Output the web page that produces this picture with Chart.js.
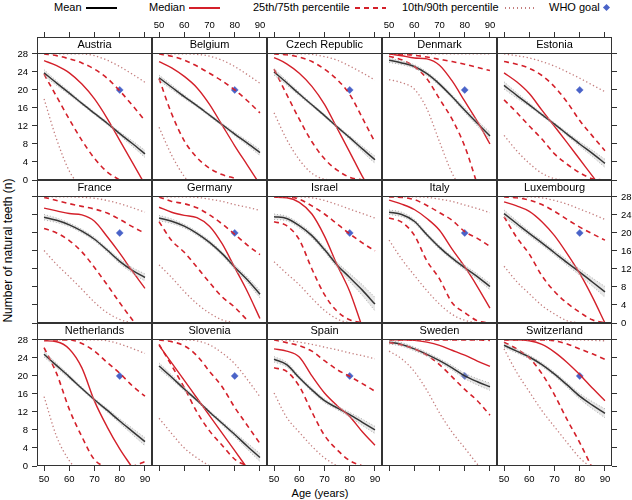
<!DOCTYPE html>
<html><head><meta charset="utf-8">
<script src="https://cdn.jsdelivr.net/npm/chart.js@4.4.0/dist/chart.umd.min.js"></script>
<style>
html,body{margin:0;padding:0;background:#fff;width:632px;height:500px;overflow:hidden;position:relative;font-family:"Liberation Sans",Arial,sans-serif;}
canvas{position:absolute;}
.t{position:absolute;font-size:11px;line-height:13px;color:#000;white-space:nowrap;}
.ln{position:absolute;height:2px;}
</style></head><body>
<div class="t" style="left:54px;top:1px">Mean</div><div class="ln" style="left:86px;top:7px;width:31px;background:#000;height:1.5px"></div>
<div class="t" style="left:149px;top:1px">Median</div><div class="ln" style="left:189px;top:7px;width:31px;background:#d4202a;height:1.5px"></div>
<div class="t" style="left:253px;top:1px">25th/75th percentile</div><div class="ln" style="left:355px;top:7px;width:31px;background:repeating-linear-gradient(to right,#d4202a 0 5px,transparent 5px 9px)"></div>
<div class="t" style="left:402px;top:1px">10th/90th percentile</div><div class="ln" style="left:505px;top:7px;width:31px;height:1.5px;background:repeating-linear-gradient(to right,#c47e7e 0 1.5px,transparent 1.5px 4px)"></div>
<div class="t" style="left:549px;top:1px">WHO goal</div><div style="position:absolute;left:604px;top:5px;width:5px;height:5px;background:#4a63c8;transform:rotate(45deg)"></div>
<div class="t" style="left:0;top:487px;width:640px;text-align:center">Age (years)</div>
<div class="t" style="left:-92px;top:244px;width:200px;text-align:center;font-size:12px;transform:rotate(-90deg)">Number of natural teeth (n)</div>
<script>
const ages = [50, 55, 60, 65, 70, 75, 80, 85, 90];
const xTicks = [50, 60, 70, 80, 90];
const yTicks = [0, 4, 8, 12, 16, 20, 24, 28];
const whoGoalAge = 80, whoGoalTeeth = 20;

const austriaMean   = [23.8,21.5,19.3,17.0,14.8,12.6,10.3,8.1,5.8];
const austriaCi     = [0.7,0.5,0.4,0.3,0.3,0.3,0.4,0.6,0.8];
const austriaMedian = [26.5,25.4,23.8,21.3,18.0,13.7,8.8,3.9,-1.0];
const austriaP75    = [28,27.6,26.9,26.0,24.6,22.6,19.8,16.6,13.2];
const austriaP90    = [28,28,28,28,27.6,26.6,25.2,23.5,21.7];
const austriaP25    = [23.5,18.5,13.5,8.8,4.8,1.8,0,null,null];
const austriaP10    = [18,9,2,-2,null,null,null,null,null];

const belgiumMean   = [22.7,20.6,18.5,16.5,14.4,12.3,10.2,8.2,6.1];
const belgiumCi     = [0.6,0.5,0.4,0.3,0.3,0.3,0.4,0.5,0.7];
const belgiumMedian = [26.3,24.9,23.0,20.5,16.8,12.2,7.6,3.3,-1.0];
const belgiumP75    = [28,27.5,26.6,25.3,23.7,22.0,20.0,17.6,14.9];
const belgiumP90    = [28,28,28,27.9,27.5,26.6,25.2,23.4,21.5];
const belgiumP25    = [22.5,14.7,8.7,5.0,2.6,1.2,0.4,null,null];
const belgiumP10    = [11.7,5.5,0.8,-2,null,null,null,null,null];

const czechMean   = [24.0,21.6,19.1,16.7,14.3,11.8,9.4,6.9,4.5];
const czechCi     = [0.7,0.5,0.4,0.3,0.3,0.3,0.4,0.6,0.8];
const czechMedian = [27.2,25.8,23.7,20.8,16.8,11.5,6.2,0.8,-4];
const czechP75    = [28,27.8,27.3,26.3,24.6,22.3,19.0,13.8,8.4];
const czechP90    = [28,28,28,27.9,27.4,26.6,25.3,23.8,22.2];
const czechP25    = [24.6,19.0,13.5,8.5,4.7,2.2,0.6,0,null];
const czechP10    = [14.9,9,4.5,1.5,0.2,0,null,null,null];

const denmarkMean   = [26.6,26.0,25.2,23.6,21.3,18.5,15.5,12.6,9.8];
const denmarkCi     = [0.5,0.4,0.4,0.4,0.4,0.4,0.5,0.6,0.8];
const denmarkMedian = [28,27.6,27.1,26.9,25.5,22.0,17.5,13.0,8.0];
const denmarkP75    = [28,27.9,27.7,27.3,26.8,26.3,25.7,25.0,24.3];
const denmarkP90    = [28,28,28,28,28,28,28,28,28];
const denmarkP25    = [27.5,26.7,25.2,22.5,18.0,13.5,7.5,-1.0,null];
const denmarkP10    = [22.3,21.6,20.2,15.8,8.5,1.5,-3,null,null];

const estoniaMean   = [21.0,18.8,16.7,14.5,12.4,10.2,8.0,5.9,3.7];
const estoniaCi     = [0.8,0.6,0.4,0.3,0.3,0.4,0.5,0.7,0.9];
const estoniaMedian = [23.8,21.8,19.2,15.5,11.9,8.3,4.6,0.9,-2.8];
const estoniaP75    = [26.3,25.7,24.8,23.2,20.7,17.3,13.2,9.8,6.5];
const estoniaP90    = [28,27.6,27.1,26.3,25.3,24.0,22.6,21.1,19.6];
const estoniaP25    = [17.8,15.0,12.0,9.1,5.8,3.5,1.6,0.3,0];
const estoniaP10    = [9.9,6.5,3.7,1.5,0.3,0,null,null,null];

const franceMean   = [23.5,22.8,21.8,20.4,18.6,16.2,13.7,11.7,10.1];
const franceCi     = [0.6,0.5,0.4,0.4,0.4,0.4,0.5,0.6,0.8];
const franceMedian = [25.5,24.9,24.3,24.0,22.6,19.2,15.5,11.5,7.7];
const franceP75    = [27.9,27.2,26.5,25.9,25.3,24.4,23.0,21.4,19.9];
const franceP90    = [28,28,28,27.9,27.7,27.2,26.5,25.6,24.6];
const franceP25    = [21.0,20.0,18.3,15.8,12.3,8.5,4.5,0.7,-3];
const franceP10    = [16.1,13.0,10.3,7.5,4.6,2.3,0.8,0,null];

const germanyMean   = [23.3,22.6,21.5,19.9,17.9,15.4,12.4,9.6,6.4];
const germanyCi     = [0.6,0.5,0.4,0.4,0.4,0.4,0.5,0.6,0.8];
const germanyMedian = [25.7,24.6,23.9,23.4,21.5,17.6,12.3,7.0,1.0];
const germanyP75    = [28,27.0,26.5,25.6,24.0,22.0,19.7,17.3,15.2];
const germanyP90    = [28,28,28,27.9,27.5,27.0,26.3,25.7,25.0];
const germanyP25    = [22.5,18.3,15.7,12.4,9.0,5.8,3.5,0.6,null];
const germanyP10    = [12.9,10.1,7.0,4.3,2.2,0.7,0,null,null];

const israelMean   = [23.6,23.2,21.6,19.4,16.3,12.9,10.1,7.3,4.2];
const israelCi     = [0.6,0.5,0.5,0.5,0.5,0.6,0.9,1.2,1.5];
const israelMedian = [27.9,27.8,26.8,24.2,19.3,12.9,7.0,-0.9,-8];
const israelP75    = [28,28,27.5,26.0,24.2,22.0,19.8,17.8,16.0];
const israelP90    = [28,28,28,27.8,27.2,26.3,25.3,24.3,23.3];
const israelP25    = [22.5,21.6,18.5,12.0,6.3,2.6,0.7,0,null];
const israelP10    = [13.6,11.0,8.5,5.5,2.8,0.9,0,null,null];

const italyMean   = [24.6,24.1,22.6,19.6,16.8,14.4,12.3,10.3,8.1];
const italyCi     = [0.5,0.5,0.4,0.4,0.4,0.4,0.5,0.6,0.7];
const italyMedian = [27.3,26.4,25.2,23.2,20.6,16.4,12.5,8.1,3.3];
const italyP75    = [28,27.9,27.4,26.1,24.5,22.8,20.3,18.8,17.0];
const italyP90    = [28,28,28,27.9,27.5,27.0,26.2,25.4,24.5];
const italyP25    = [23.3,22.4,19.5,13.8,9.8,4.5,2.3,0.5,0];
const italyP10    = [18.4,14.2,10.6,7.2,4.2,1.9,0.6,0,null];

const luxembourgMean   = [24.3,22.1,19.9,17.8,15.6,13.4,11.3,9.1,6.9];
const luxembourgCi     = [0.8,0.6,0.5,0.5,0.5,0.6,0.7,0.9,1.2];
const luxembourgMedian = [26.9,26.0,24.8,22.5,19.4,15.4,11.0,5.8,0];
const luxembourgP75    = [28,27.8,27.3,26.3,24.8,23.0,21.3,19.8,18.4];
const luxembourgP90    = [28,28,28,27.8,27.2,26.4,25.3,24.2,23.0];
const luxembourgP25    = [23.6,19.0,15.3,10.5,7.0,4.4,2.4,0.7,0];
const luxembourgP10    = [12.6,9.2,6.5,3.9,2.0,0.5,0,null,null];

const netherlandsMean   = [24.8,22.3,19.8,17.2,14.7,12.4,10.0,7.7,5.4];
const netherlandsCi     = [0.6,0.5,0.4,0.3,0.3,0.4,0.5,0.7,0.9];
const netherlandsMedian = [27.8,27.6,26.0,21.8,14.4,8.7,3.8,-0.4,-5];
const netherlandsP75    = [28,28,28,27.2,25.5,23.0,20.6,17.8,15.5];
const netherlandsP90    = [28,28,28,28,28,27.8,27.1,26.1,25.0];
const netherlandsP25    = [26.3,20.5,12.6,6.5,1.4,0,0,0,1.0];
const netherlandsP10    = [15.4,6.5,1.2,-2,null,null,null,null,null];

const sloveniaMean   = [22.2,19.7,17.1,14.6,12.0,9.5,7.0,4.4,1.9];
const sloveniaCi     = [0.7,0.5,0.4,0.3,0.3,0.4,0.5,0.7,0.9];
const sloveniaMedian = [26.8,22.9,19.0,15.1,11.2,7.3,3.4,-0.5,-4.4];
const sloveniaP75    = [28,27.6,26.7,24.5,21.0,17.6,13.0,9.0,5.0];
const sloveniaP90    = [28,28,28,27.8,26.9,25.1,22.7,19.2,15.4];
const sloveniaP25    = [27.0,22.3,17.4,12.0,7.8,4.6,1.5,0,null];
const sloveniaP10    = [10.6,7.2,4.0,1.8,0,null,null,null,null];

const spainMean   = [23.7,22.5,19.6,16.9,14.5,12.9,11.4,9.7,8.0];
const spainCi     = [0.6,0.5,0.4,0.4,0.4,0.4,0.5,0.7,0.8];
const spainMedian = [26.0,25.5,24.2,20.0,16.2,13.4,11.0,7.6,4.6];
const spainP75    = [28,27.4,26.7,25.5,23.4,21.4,19.9,18.3,16.6];
const spainP90    = [28,27.9,27.5,27.0,26.4,25.8,25.1,24.5,23.8];
const spainP25    = [21.8,21.0,17.7,12.0,6.8,3.6,1.2,0,null];
const spainP10    = [16.2,10.8,7.5,4.4,1.8,0,null,null,null];

const swedenMean   = [27.5,27.0,26.0,24.8,23.4,21.8,20.0,18.7,17.6];
const swedenCi     = [0.4,0.4,0.4,0.4,0.4,0.5,0.6,0.7,0.8];
const swedenMedian = [28,28,27.9,27.5,26.8,25.7,24.6,23.3,22.1];
const swedenP75    = [28,28,28,28,28,28,28,28,27.9];
const swedenP90    = [28,28,28,28,28,28,28,28,28];
const swedenP25    = [27.4,26.9,26.0,24.6,22.5,19.8,17.0,14.5,11.3];
const swedenP10    = [25.5,23.8,21.0,16.8,11.8,7.5,4.0,0.4,-3];

const switzerlandMean   = [26.8,25.5,24.2,22.5,20.4,18.0,15.5,13.5,11.7];
const switzerlandCi     = [0.5,0.4,0.4,0.4,0.4,0.5,0.6,0.8,1.0];
const switzerlandMedian = [28,28,27.8,27.0,25.3,23.0,20.3,17.3,14.5];
const switzerlandP75    = [28,28,28,28,27.8,27.1,26.0,24.9,23.7];
const switzerlandP90    = [28,28,28,28,28,28,28,27.9,27.8];
const switzerlandP25    = [27.5,26.0,24.0,20.5,15.8,10.3,5.2,-0.5,null];
const switzerlandP10    = [26.0,20.8,16.5,12.3,8.7,5.2,1.8,-0.5,null];

const panels = [
  ['Austria', austriaMean, austriaCi, austriaMedian, austriaP25, austriaP75, austriaP10, austriaP90],
  ['Belgium', belgiumMean, belgiumCi, belgiumMedian, belgiumP25, belgiumP75, belgiumP10, belgiumP90],
  ['Czech Republic', czechMean, czechCi, czechMedian, czechP25, czechP75, czechP10, czechP90],
  ['Denmark', denmarkMean, denmarkCi, denmarkMedian, denmarkP25, denmarkP75, denmarkP10, denmarkP90],
  ['Estonia', estoniaMean, estoniaCi, estoniaMedian, estoniaP25, estoniaP75, estoniaP10, estoniaP90],
  ['France', franceMean, franceCi, franceMedian, franceP25, franceP75, franceP10, franceP90],
  ['Germany', germanyMean, germanyCi, germanyMedian, germanyP25, germanyP75, germanyP10, germanyP90],
  ['Israel', israelMean, israelCi, israelMedian, israelP25, israelP75, israelP10, israelP90],
  ['Italy', italyMean, italyCi, italyMedian, italyP25, italyP75, italyP10, italyP90],
  ['Luxembourg', luxembourgMean, luxembourgCi, luxembourgMedian, luxembourgP25, luxembourgP75, luxembourgP10, luxembourgP90],
  ['Netherlands', netherlandsMean, netherlandsCi, netherlandsMedian, netherlandsP25, netherlandsP75, netherlandsP10, netherlandsP90],
  ['Slovenia', sloveniaMean, sloveniaCi, sloveniaMedian, sloveniaP25, sloveniaP75, sloveniaP10, sloveniaP90],
  ['Spain', spainMean, spainCi, spainMedian, spainP25, spainP75, spainP10, spainP90],
  ['Sweden', swedenMean, swedenCi, swedenMedian, swedenP25, swedenP75, swedenP10, swedenP90],
  ['Switzerland', switzerlandMean, switzerlandCi, switzerlandMedian, switzerlandP25, switzerlandP75, switzerlandP10, switzerlandP90]
];

Chart.defaults.font.family = '"Liberation Sans", Arial, sans-serif';
Chart.defaults.color = '#000';

const PW = 115, PH = 143, STRIP = 16, ML = 32, MR = 32, MT = 26, MB = 22;
const X0 = 37, Y0 = 37;
const RED = '#d4202a', ROSE = '#c47e7e', BLUE = '#4a63c8';

function pts(arr) {
  const out = [];
  arr.forEach((v, i) => { if (v !== null) out.push({x: ages[i], y: v}); });
  return out;
}
function line(arr, color, width, dash, extra) {
  return Object.assign({data: pts(arr), borderColor: color, borderWidth: width, borderDash: dash,
    pointRadius: 0, pointHoverRadius: 0, fill: false, cubicInterpolationMode: 'monotone', clip: 0}, extra || {});
}

const frame = {
  id: 'frame',
  afterDraw(chart) {
    const a = chart.chartArea, c = chart.ctx;
    const l = Math.round(a.left) + 0.5, r = Math.round(a.right) - 0.5;
    const t = Math.round(a.top - STRIP) + 0.5, m = Math.round(a.top) + 0.5, b = Math.round(a.bottom) - 0.5;
    c.save();
    c.strokeStyle = '#333'; c.lineWidth = 1; c.setLineDash([]);
    c.strokeRect(l, t, r - l, b - t);
    c.beginPath(); c.moveTo(l, m); c.lineTo(r, m); c.stroke();
    c.restore();
  }
};

panels.forEach((p, k) => {
  const row = Math.floor(k / 5), col = k % 5;
  const [name, mean, ci, median, p25, p75, p10, p90] = p;
  const cv = document.createElement('canvas');
  const W = PW + ML + MR, H = PH + MT + MB;
  cv.width = W; cv.height = H;
  cv.style.left = (X0 + col * PW - ML) + 'px';
  cv.style.top = (Y0 + row * PH - MT) + 'px';
  cv.style.width = W + 'px'; cv.style.height = H + 'px';
  document.body.appendChild(cv);

  const ciLo = mean.map((m, i) => m - ci[i]);
  const ciHi = mean.map((m, i) => m + ci[i]);
  const tickFont = {size: 9.5};
  const xAxis = (pos, showMarks, showLabels, size) => ({
    type: 'linear', position: pos, min: 47.2, max: 92.8,
    weight: pos === 'top' ? 3000 : 0,
    afterBuildTicks: s => { s.ticks = xTicks.map(v => ({value: v})); },
    afterFit: s => { s.height = size; },
    grid: {display: showMarks, drawOnChartArea: false, drawTicks: true, tickLength: 5, color: '#333'},
    border: {display: false},
    ticks: {display: showLabels, autoSkip: false, maxRotation: 0, padding: pos === 'top' ? 1 : 3, font: tickFont}
  });
  const yAxis = (pos, showMarks, showLabels, size) => ({
    type: 'linear', position: pos, min: 0, max: 28.2,
    afterBuildTicks: s => { s.ticks = yTicks.map(v => ({value: v})); },
    afterFit: s => { s.width = size; },
    grid: {display: showMarks, drawOnChartArea: false, drawTicks: true, tickLength: 5, color: '#333'},
    border: {display: false},
    ticks: {display: showLabels, autoSkip: false, padding: 4, font: tickFont}
  });

  new Chart(cv, {
    type: 'line',
    data: {
      datasets: [
        line(ciLo, '#a8a8a8', 0.9, [1, 2]),
        line(ciHi, '#a8a8a8', 0.9, [1, 2], {fill: '-1', backgroundColor: 'rgba(175,175,175,0.3)'}),
        line(p10, ROSE, 1.3, [1.3, 2.5]),
        line(p90, ROSE, 1.3, [1.3, 2.5]),
        line(p25, RED, 1.6, [5, 4]),
        line(p75, RED, 1.6, [5, 4]),
        line(median, RED, 1.4, []),
        line(mean, '#000', 1.5, []),
        {data: [{x: whoGoalAge, y: whoGoalTeeth}], showLine: false, pointRadius: 3.5, pointStyle: 'rectRot',
         pointBackgroundColor: BLUE, pointBorderColor: BLUE, pointBorderWidth: 0.5, clip: 0}
      ]
    },
    options: {
      responsive: false, animation: false, events: [],
      layout: {padding: 0},
      plugins: {
        legend: {display: false}, tooltip: {enabled: false},
        title: {display: true, text: name, fullSize: false, padding: 0,
                font: {size: 11, lineHeight: '16px', weight: 'normal'}, color: '#000'}
      },
      scales: {
        x: xAxis('bottom', row === 2, row === 2 && col % 2 === 0, MB),
        xTop: xAxis('top', row === 0, row === 0 && col % 2 === 1, MT),
        y: yAxis('left', col === 0, col === 0 && row !== 1, ML),
        yRight: yAxis('right', col === 4, col === 4 && row === 1, MR)
      }
    },
    plugins: [frame]
  });
});
</script>
</body></html>
